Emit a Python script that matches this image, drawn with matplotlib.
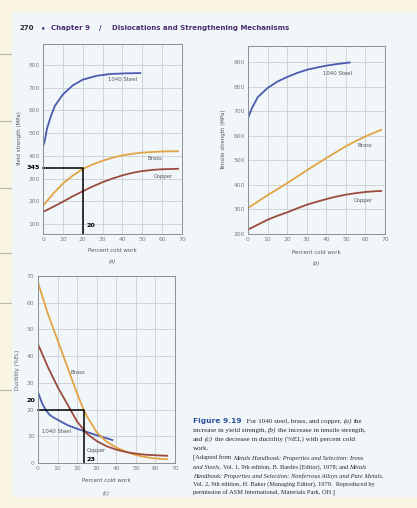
import matplotlib
matplotlib.use("Agg")
import matplotlib.pyplot as plt
from matplotlib.patches import Rectangle
from matplotlib.lines import Line2D
from matplotlib.offsetbox import TextArea, HPacker, AnnotationBbox

# ---------------- data ----------------
pct_ticks = [0, 10, 20, 30, 40, 50, 60, 70]

# (a) yield strength (MPa)
ys_steel_x = [0, 1, 2, 4, 6, 10, 15, 20, 27, 34, 42, 49]
ys_steel_y = [440, 470, 520, 575, 620, 670, 710, 735, 752, 760, 763, 764]
ys_cu_x = [0, 5, 10, 15, 20, 25, 30, 35, 40, 45, 50, 55, 60, 65, 68]
ys_brass_y = [180, 232, 278, 313, 342, 362, 378, 392, 402, 409, 414, 417, 419, 420, 420]
ys_copper_y = [153, 175, 198, 222, 244, 265, 284, 300, 314, 325, 333, 338, 341, 342, 343]
ys_ticks = [100, 200, 300, 400, 500, 600, 700, 800]

# (b) tensile strength (MPa)
ts_steel_x = [0, 2, 5, 10, 15, 20, 25, 30, 35, 40, 45, 52]
ts_steel_y = [672, 712, 757, 794, 820, 839, 855, 868, 877, 885, 891, 898]
ts_cu_x = [0, 5, 10, 15, 20, 25, 30, 35, 40, 45, 50, 55, 60, 65, 68]
ts_brass_y = [306, 332, 358, 382, 407, 433, 459, 484, 509, 533, 557, 578, 597, 614, 624]
ts_copper_y = [218, 238, 258, 274, 288, 304, 319, 331, 342, 352, 360, 366, 371, 374, 375]
ts_ticks = [200, 300, 400, 500, 600, 700, 800, 900]

# (c) ductility (%EL)
du_steel_x = [0, 2, 4, 6, 8, 10, 15, 20, 25, 30, 35, 38]
du_steel_y = [26.5, 22.5, 19.8, 18.0, 17.0, 16.2, 14.2, 12.8, 11.6, 10.4, 9.3, 8.6]
du_brass_x = [0, 5, 10, 15, 20, 23.3, 25, 30, 35, 40, 45, 50, 55, 60, 66]
du_brass_y = [67.5, 56, 46, 36, 26, 20, 17.5, 11.5, 8, 5.8, 4.2, 3.0, 2.2, 1.7, 1.4]
du_cu_x = [0, 5, 10, 15, 20, 25, 30, 35, 40, 45, 50, 55, 60, 66]
du_copper_y = [44.5, 36, 28.5, 22, 15.5, 11, 8.2, 6.3, 5.0, 4.1, 3.5, 3.1, 2.9, 2.7]
du_ticks = [0, 10, 20, 30, 40, 50, 60, 70]

# hand-drawn reading lines
a_mark = (20, 345)
c_mark = (23.3, 20)

# ---------------- style ----------------
W, H = 417, 508
fig = plt.figure(figsize=(W / 100, H / 100), dpi=100)
CREAM = "#f9f5e2"
PAGE = "#f1f6f8"
fig.patch.set_facecolor(CREAM)
fig.patches.append(Rectangle((12 / W, 1 - 497 / H), (W - 12) / W, (497 - 12) / H,
                             transform=fig.transFigure, facecolor=PAGE, edgecolor="none", zorder=-5))
for yy in [54, 121, 188, 253, 303, 390]:
    fig.lines.append(Line2D([0, 11 / W], [1 - yy / H] * 2, transform=fig.transFigure,
                            color="#b8b8b0", lw=0.8, zorder=-4))

C_STEEL = "#4a5bb0"
C_BRASS = "#e2a443"
C_COPPER = "#9b4b3e"
GRID = "#c6ccd1"
TICKC = "#7a7f85"
LBL = "#55595e"
FS_T = 4.3
LW = 1.3


def px_axes(l, t, r, b):
    ax = fig.add_axes([l / W, 1 - b / H, (r - l) / W, (b - t) / H])
    ax.set_zorder(2)
    return ax


def style(ax, ylim, yticks):
    ax.set_facecolor("none")
    ax.set_xlim(0, 70)
    ax.set_ylim(*ylim)
    ax.set_xticks(pct_ticks)
    ax.set_yticks(yticks)
    ax.tick_params(length=0, labelsize=FS_T, labelcolor=TICKC, pad=2.5)
    ax.grid(True, color=GRID, lw=0.55)
    ax.set_axisbelow(True)
    for s in ax.spines.values():
        s.set_color("#8a8f94")
        s.set_linewidth(0.7)


def fig_text(x, y, s, **kw):
    fig.text(x / W, 1 - y / H, s, **kw)


hand = dict(fontsize=4.6, fontweight="bold", color="black", family="DejaVu Sans")
curve_lbl = dict(fontsize=3.9, color=LBL)

# (a)
axa = px_axes(43, 44, 182, 234)
style(axa, (56, 892), ys_ticks)
axa.plot(ys_steel_x, ys_steel_y, color=C_STEEL, lw=LW)
axa.plot(ys_cu_x, ys_brass_y, color=C_BRASS, lw=LW)
axa.plot(ys_cu_x, ys_copper_y, color=C_COPPER, lw=LW)
axa.plot([0, a_mark[0], a_mark[0]], [a_mark[1], a_mark[1], 56], color="black", lw=1.1, clip_on=False)
axa.text(32.5, 734, "1040 Steel", **curve_lbl, va="center")
axa.text(52.7, 390, "Brass", **curve_lbl, va="center")
axa.text(56, 307, "Copper", **curve_lbl, va="center")
axa.text(-1.5, 350, "345", ha="right", va="center", **hand)
axa.text(22, 92, "20", ha="left", va="center", **hand)
fig_text(20, 139, "Yield strength (MPa)", rotation=90, fontsize=4.0, color=LBL, ha="center", va="center")
fig_text(112, 250, "Percent cold work", fontsize=4.0, color=LBL, ha="center", va="center")
fig_text(112, 261, "(a)", fontsize=3.8, color=LBL, ha="center", va="center", style="italic")

# (b)
axb = px_axes(248, 46, 385, 234)
style(axb, (200, 965), ts_ticks)
axb.plot(ts_steel_x, ts_steel_y, color=C_STEEL, lw=LW)
axb.plot(ts_cu_x, ts_brass_y, color=C_BRASS, lw=LW)
axb.plot(ts_cu_x, ts_copper_y, color=C_COPPER, lw=LW)
axb.text(38.3, 855, "1040 Steel", **curve_lbl, va="center")
axb.text(56, 562, "Brass", **curve_lbl, va="center")
axb.text(54, 338, "Copper", **curve_lbl, va="center")
fig_text(224, 140, "Tensile strength (MPa)", rotation=90, fontsize=4.0, color=LBL, ha="center", va="center")
fig_text(316, 253, "Percent cold work", fontsize=4.0, color=LBL, ha="center", va="center")
fig_text(316, 263, "(b)", fontsize=3.8, color=LBL, ha="center", va="center", style="italic")

# (c)
axc = px_axes(38, 276, 175, 463)
style(axc, (0, 70), du_ticks)
axc.plot(du_steel_x, du_steel_y, color=C_STEEL, lw=LW)
axc.plot(du_brass_x, du_brass_y, color=C_BRASS, lw=LW)
axc.plot(du_cu_x, du_copper_y, color=C_COPPER, lw=LW)
axc.plot([0, c_mark[0], c_mark[0]], [c_mark[1], c_mark[1], 0], color="black", lw=1.1, clip_on=False)
axc.text(2, 11.8, "1040 Steel", **curve_lbl, va="center")
axc.text(16.4, 34, "Brass", **curve_lbl, va="center")
axc.text(25, 4.5, "Copper", **curve_lbl, va="center")
axc.text(-1.5, 23.5, "20", ha="right", va="center", **hand)
axc.text(25, 1.4, "23", ha="left", va="center", **hand)
fig_text(18, 370, "Ductility (%EL)", rotation=90, fontsize=4.0, color=LBL, ha="center", va="center")
fig_text(106, 481, "Percent cold work", fontsize=4.0, color=LBL, ha="center", va="center")
fig_text(106, 493, "(c)", fontsize=3.8, color=LBL, ha="center", va="center", style="italic")

# header
HFS = 5.0
fig_text(20, 28, "270", fontsize=HFS, fontweight="bold", color="#2a2a2a", va="center")
fig_text(41, 28, "\u2022", fontsize=HFS, fontweight="bold", color="#5a3a7e", va="center")
fig_text(51, 28, "Chapter 9", fontsize=HFS, fontweight="bold", color="#4a2c70", va="center")
fig_text(99, 28, "/", fontsize=HFS, fontweight="bold", color="#4a2c70", va="center")
fig_text(112, 28, "Dislocations and Strengthening Mechanisms", fontsize=HFS, fontweight="bold",
         color="#4a2c70", va="center")

# caption
SERIF = "Liberation Serif"


def caption_line(x, y, parts, fs):
    boxes = []
    for txt, kind in parts:
        props = dict(fontsize=fs, family=SERIF, color="#2a2a2a")
        if kind == "i":
            props["style"] = "italic"
        elif kind == "fig":
            props = dict(fontsize=fs + 0.3, family="DejaVu Sans", fontweight="bold", color="#2d4f9e")
        boxes.append(TextArea(txt, textprops=props))
    pack = HPacker(children=boxes, sep=fs * 0.25, pad=0, align="baseline")
    ab = AnnotationBbox(pack, (x / W, 1 - y / H), xycoords="figure fraction",
                        box_alignment=(0, 0.5), frameon=False, pad=0)
    fig.add_artist(ab)


F1 = 5.1
F2 = 4.6
caption_line(193, 421, [("Figure 9.19", "fig"), ("\u2002For 1040 steel, brass, and copper,", "r"),
                        ("(a)", "i"), ("the", "r")], F1)
caption_line(193, 430, [("increase in yield strength,", "r"), ("(b)", "i"),
                        ("the increase in tensile strength,", "r")], F1)
caption_line(193, 439, [("and", "r"), ("(c)", "i"),
                        ("the decrease in ductility (%EL) with percent cold", "r")], F1)
caption_line(193, 448, [("work.", "r")], F1)
caption_line(193, 458, [("[Adapted from", "r"), ("Metals Handbook: Properties and Selection: Irons", "i")], F2)
caption_line(193, 467, [("and Steels,", "i"), ("Vol. 1, 9th edition, B. Bardes (Editor), 1978; and", "r"),
                        ("Metals", "i")], F2)
caption_line(193, 476, [("Handbook: Properties and Selection: Nonferrous Alloys and Pure Metals,", "i")], F2)
caption_line(193, 484, [("Vol. 2, 9th edition, H. Baker (Managing Editor), 1979.  Reproduced by", "r")], F2)
caption_line(193, 493, [("permission of ASM International, Materials Park, OH.]", "r")], F2)

fig.savefig("out.png", dpi=100, facecolor=fig.get_facecolor())
